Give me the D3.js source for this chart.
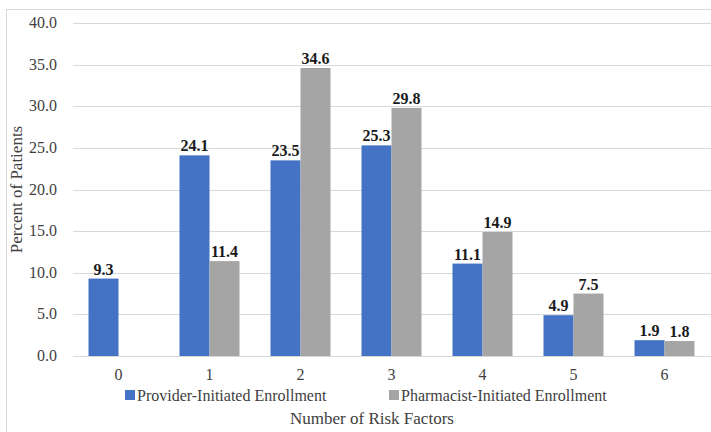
<!DOCTYPE html>
<html>
<head>
<meta charset="utf-8">
<script src="https://cdn.jsdelivr.net/npm/d3@7"></script>
<style>
  html, body { margin: 0; padding: 0; background: #fff; }
  svg { display: block; }
  svg text, text { font-family: 'Liberation Serif', serif !important; }
</style>
</head>
<body>
<div id="chart"></div>
<script>
const categories = ['0', '1', '2', '3', '4', '5', '6'];
const seriesNames = ['Provider-Initiated Enrollment', 'Pharmacist-Initiated Enrollment'];
const provider = [9.3, 24.1, 23.5, 25.3, 11.1, 4.9, 1.9];
const pharmacist = [null, 11.4, 34.6, 29.8, 14.9, 7.5, 1.8];
const yTicks = [0, 5, 10, 15, 20, 25, 30, 35, 40];
const colors = ['#4472C4', '#A5A5A5'];

const width = 711, height = 432;
const margin = { top: 23, right: 1, bottom: 76, left: 73 };
const fs = 16;

const svg = d3.select('#chart').append('svg')
  .attr('width', width)
  .attr('height', height)
  .attr('font-family', 'Liberation Serif');

// outer chart border
svg.append('rect')
  .attr('x', 6.5).attr('y', 9.5)
  .attr('width', width + 10).attr('height', height + 10)
  .attr('fill', 'none').attr('stroke', '#d9d9d9');

const x = d3.scaleBand()
  .domain(categories)
  .range([margin.left, width - margin.right])
  .paddingInner(0).paddingOuter(0);

const y = d3.scaleLinear()
  .domain([0, 40])
  .range([height - margin.bottom, margin.top]);

const barW = 30;

// gridlines
svg.append('g')
  .selectAll('line')
  .data(yTicks)
  .join('line')
  .attr('x1', margin.left).attr('x2', width)
  .attr('y1', (d) => Math.round(y(d)) + 0.5)
  .attr('y2', (d) => Math.round(y(d)) + 0.5)
  .attr('stroke', '#d9d9d9')
  .attr('stroke-width', 1);

function label(sel, size) {
  return sel
    .style('font-family', 'Liberation Serif', 'important')
    .attr('font-size', size || fs)
    .attr('fill', '#404040');
}

// y axis labels
svg.append('g')
  .selectAll('text')
  .data(yTicks)
  .join('text')
  .call(label)
  .attr('x', 57)
  .attr('y', (d) => y(d) + 5)
  .attr('text-anchor', 'end')
  .text((d) => d.toFixed(1));

// x axis labels
svg.append('g')
  .selectAll('text')
  .data(categories)
  .join('text')
  .call(label)
  .attr('x', (d) => x(d) + x.bandwidth() / 2)
  .attr('y', 380)
  .attr('text-anchor', 'middle')
  .text((d) => d);

const series = [provider, pharmacist];

series.forEach((vals, si) => {
  const data = categories.map((c, i) => ({ c, v: vals[i] })).filter((d) => d.v != null);
  const xOff = (d) => x(d.c) + x.bandwidth() / 2 - barW + si * barW;

  svg.append('g')
    .selectAll('rect')
    .data(data)
    .join('rect')
    .attr('x', xOff)
    .attr('y', (d) => y(d.v))
    .attr('width', barW)
    .attr('height', (d) => y(0) - y(d.v))
    .attr('fill', colors[si]);

  svg.append('g')
    .selectAll('text')
    .data(data)
    .join('text')
    .call(label)
    .attr('x', (d) => xOff(d) + barW / 2)
    .attr('y', (d) => y(d.v) - 4)
    .attr('text-anchor', 'middle')
    .attr('font-weight', 'bold')
    .attr('fill', '#1a1a1a')
    .text((d) => d.v.toFixed(1));
});

// legend
const legendX = [125, 389];
seriesNames.forEach((name, i) => {
  svg.append('rect')
    .attr('x', legendX[i]).attr('y', 390)
    .attr('width', 10).attr('height', 10)
    .attr('fill', colors[i]);
  svg.append('text')
    .call(label, 16)
    .attr('x', legendX[i] + 12)
    .attr('y', 401)
    .text(name);
});

// axis titles
svg.append('text')
  .call(label, 17)
  .attr('x', 372)
  .attr('y', 424)
  .attr('text-anchor', 'middle')
  .text('Number of Risk Factors');

svg.append('text')
  .call(label, 17)
  .attr('transform', `translate(22,${(y(0) + y(40)) / 2}) rotate(-90)`)
  .attr('text-anchor', 'middle')
  .text('Percent of Patients');
</script>
</body>
</html>
